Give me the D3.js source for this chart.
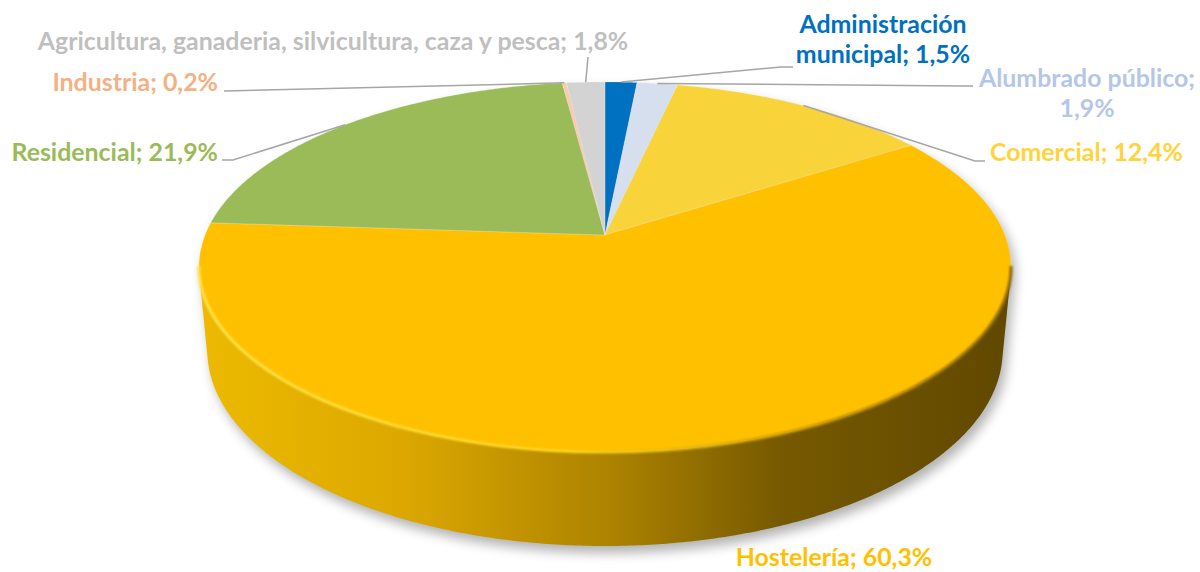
<!DOCTYPE html>
<html>
<head>
<meta charset="utf-8">
<script src="https://cdn.jsdelivr.net/npm/d3@7"></script>
<style>
  body { margin: 0; background: #fff; }
  text { font-family: Lato, "Open Sans", sans-serif; font-weight: 700; }
</style>
</head>
<body>
<div id="chart"></div>
<script>
// Data
const categories = [
    "Administración municipal",
    "Alumbrado público",
    "Comercial",
    "Hostelería",
    "Residencial",
    "Industria",
    "Agricultura, ganaderia, silvicultura, caza y pesca"
];
const values = [1.5, 1.9, 12.4, 60.3, 21.9, 0.2, 1.8];
const sliceColors = ["#0070C0", "#D6DFED", "#F9D33A", "#FFC000", "#9BBB59", "#F8CBAD", "#D3D3D3"];
const labelColors = ["#0070C0", "#B4C7E7", "#FFD43B", "#FFC000", "#9BBB59", "#F4B183", "#BFBFBF"];

// Label layout: anchor point, alignment, elbow (null = straight line), line start
const labelLayout = [
    { x: 883, y: 33, anchor: 'middle', lineFrom: [793, 67], elbow: [781, 67] },
    { x: 1087, y: 87, anchor: 'middle', lineFrom: [973, 86], elbow: [962, 86] },
    { x: 990, y: 161, anchor: 'start', lineFrom: [985, 161], elbow: [975, 161] },
    { x: 834, y: 566, anchor: 'middle', lineFrom: null },
    { x: 218, y: 161, anchor: 'end', lineFrom: [222, 160], elbow: [233, 160] },
    { x: 218, y: 91, anchor: 'end', lineFrom: [224, 91], elbow: null },
    { x: 333, y: 50, anchor: 'middle', lineFrom: [588, 57], elbow: null }
];
const lineHeight = 30;
const refLabelWidth = 591; // width of the longest label in the reference

const width = 1200, height = 572;

// 3D projection of a tilted, perspective pie
const cx = 605, cy = 235;
const f = 2066, D = 5.166, elev = Math.asin(0.449), depthH = 0.235;
function proj(phi, h, r = 1) {
    const X = r * Math.sin(phi), Z = -r * Math.cos(phi);
    const dz = D - Z * Math.cos(elev) - h * Math.sin(elev);
    return [cx + f * X / dz, cy + f * (Z * Math.sin(elev) - h * Math.cos(elev)) / dz];
}
const arcPts = (a0, a1, h) => {
    const n = Math.max(2, Math.ceil((a1 - a0) / (Math.PI / 360)));
    return d3.range(n + 1).map(i => proj(a0 + (a1 - a0) * i / n, h));
};
const line = d3.line();

// visible range of side wall
const visLim = Math.acos(-1 / (D * Math.cos(elev)));
const wallMin = visLim, wallMax = 2 * Math.PI - visLim;

const pie = d3.pie().sort(null).value(d => d);
const arcs = pie(values);

const svg = d3.select('#chart')
    .append('svg')
    .attr('width', width)
    .attr('height', height);

const defs = svg.append('defs');
defs.append('filter').attr('id', 'shadow').attr('x', '-10%').attr('y', '-10%').attr('width', '120%').attr('height', '130%')
    .append('feGaussianBlur').attr('stdDeviation', 6);
defs.append('filter').attr('id', 'soft')
    .append('feGaussianBlur').attr('stdDeviation', 1.2);

const leftX = proj(wallMax, 0)[0], rightX = proj(wallMin, 0)[0];
const wallGrad = defs.append('linearGradient').attr('id', 'wallGrad')
    .attr('gradientUnits', 'userSpaceOnUse')
    .attr('x1', leftX).attr('x2', rightX).attr('y1', 0).attr('y2', 0);
[[0, '#EDBA00'], [0.25, '#DCA800'], [0.5, '#AE8400'], [0.72, '#765900'], [1, '#604800']]
    .forEach(([o, c]) => wallGrad.append('stop').attr('offset', o).attr('stop-color', c));

const rimGrad = defs.append('linearGradient').attr('id', 'rimGrad')
    .attr('gradientUnits', 'userSpaceOnUse')
    .attr('x1', leftX).attr('x2', rightX).attr('y1', 0).attr('y2', 0);
[[0, '#FFE24A'], [0.45, '#FFD21A'], [0.75, '#C99600'], [1, '#8A6600']]
    .forEach(([o, c]) => rimGrad.append('stop').attr('offset', o).attr('stop-color', c));

// Shadow under the pie
const shadowPts = arcPts(wallMin, wallMax, -depthH).concat(arcPts(wallMax, wallMin + 2 * Math.PI, 0));
svg.append('path')
    .attr('d', line(shadowPts) + 'Z')
    .attr('transform', 'translate(4,7)')
    .attr('fill', '#000')
    .attr('opacity', 0.3)
    .attr('filter', 'url(#shadow)');

// Side walls (front facing part only)
arcs.forEach((a, i) => {
    const a0 = Math.max(a.startAngle, wallMin), a1 = Math.min(a.endAngle, wallMax);
    if (a1 <= a0) return;
    const pts = arcPts(a0, a1, 0).concat(arcPts(a0, a1, -depthH).reverse());
    svg.append('path')
        .attr('d', line(pts) + 'Z')
        .attr('fill', i === 3 ? 'url(#wallGrad)' : d3.color(sliceColors[i]).darker(1));
});

// Top face slices
arcs.forEach((a, i) => {
    const pts = [[cx, cy]].concat(arcPts(a.startAngle, a.endAngle, 0));
    svg.append('path')
        .attr('d', line(pts) + 'Z')
        .attr('fill', sliceColors[i])
        .attr('stroke', 'rgba(255,255,255,0.35)')
        .attr('stroke-width', 0.6)
        .attr('stroke-linejoin', 'round');
});

// Bevel rim on the front edge
svg.append('path')
    .attr('d', line(arcPts(wallMin - 0.05, wallMax + 0.05, 0)))
    .attr('fill', 'none')
    .attr('stroke', 'url(#rimGrad)')
    .attr('stroke-width', 3)
    .attr('filter', 'url(#soft)');

// Labels and leader lines
const fmt = v => v.toFixed(1).replace('.', ',') + '%';
const labelLines = categories.map((c, i) => {
    if (i === 0) return ['Administración', `municipal; ${fmt(values[i])}`];
    if (i === 1) return [`${c};`, fmt(values[i])];
    return [`${c}; ${fmt(values[i])}`];
});

const labels = [];
arcs.forEach((a, i) => {
    const L = labelLayout[i];
    if (L.lineFrom) {
        const mid = (a.startAngle + a.endAngle) / 2;
        const end = proj(mid, 0);
        const pts = [L.lineFrom].concat(L.elbow ? [L.elbow] : []).concat([end]);
        svg.append('path')
            .attr('d', line(pts))
            .attr('fill', 'none')
            .attr('stroke', '#A6A6A6')
            .attr('stroke-width', 1.5);
    }
    const t = svg.append('text')
        .attr('x', L.x)
        .attr('y', L.y)
        .attr('text-anchor', L.anchor)
        .attr('fill', labelColors[i])
        .style('font-size', '21px');
    labelLines[i].forEach((s, k) => {
        t.append('tspan').attr('x', L.x).attr('dy', k === 0 ? 0 : lineHeight).text(s);
    });
    labels.push(t);
});

// Scale font so the longest label matches the reference width
const w = labels[6].node().getComputedTextLength();
const fs = 21 * refLabelWidth / w;
labels.forEach(t => t.style('font-size', fs + 'px'));
</script>
</body>
</html>
